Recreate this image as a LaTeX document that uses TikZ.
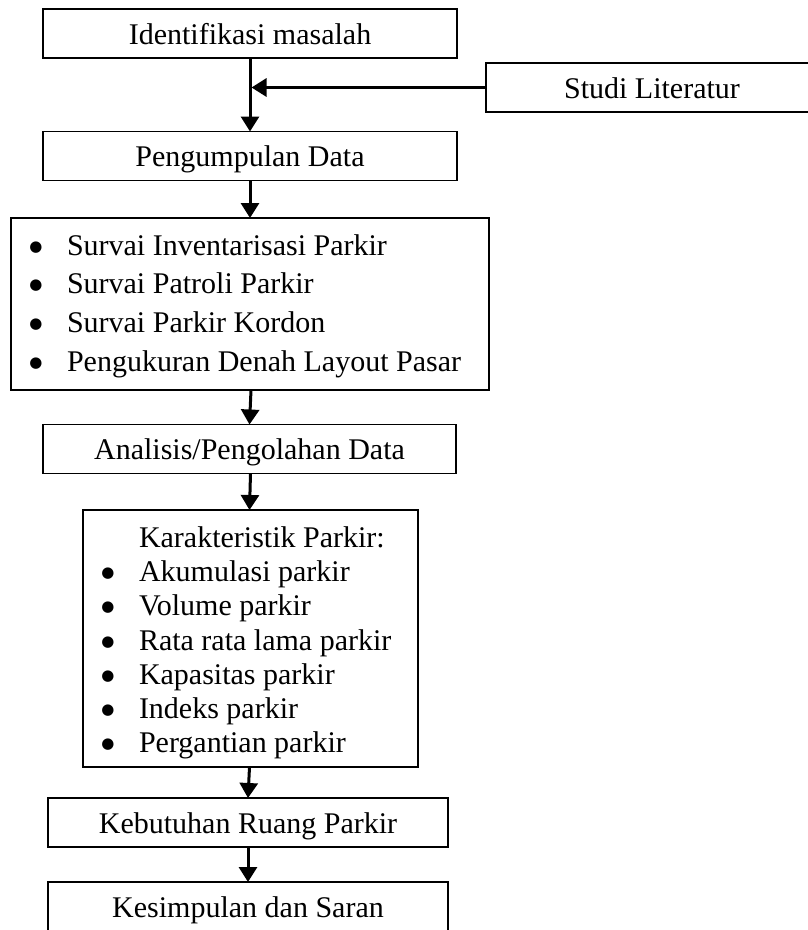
\documentclass[tikz,border=0pt]{standalone}
\usepackage{fontspec}
\setmainfont{Liberation Serif}
\newfontfamily\symfont{DejaVu Sans}
\usetikzlibrary{arrows.meta}
\newcommand\bul{\llap{\makebox[0pt][c]{\raisebox{4pt}{\symfont\fontsize{15}{15}\selectfont ●}}\hspace{31pt}}}
\begin{document}
\begin{tikzpicture}[x=1pt,y=-1pt,
  box/.style={draw=black, line width=1.4pt, inner sep=0pt, outer sep=0pt, minimum height=49pt, text height=21pt, text depth=0pt, font=\fontsize{30}{36}\selectfont},
  frame/.style={draw=black, line width=1.4pt, inner sep=0pt, outer sep=0pt},
  txt/.style={inner sep=0pt, outer sep=0pt, anchor=base west, font=\fontsize{30}{36}\selectfont},
  flow/.style={line width=3pt, -{Triangle[width=18pt,length=15pt]}}
]
\useasboundingbox (0,0) rectangle (808,930);
\clip (0,0) rectangle (808,930);
\fill[white] (0,0) rectangle (808,930);
% boxes
\node[box, minimum width=414pt] (ident) at (250,33.5) {Identifikasi masalah};
\node[box, minimum width=332pt] (studi) at (652,87.5) {Studi Literatur};
\node[box, minimum width=414pt] (kumpul) at (250,156) {Pengumpulan Data};
\node[frame, minimum width=478pt, minimum height=172pt] (survei) at (250,304) {};
\node[box, minimum width=413pt] (analisis) at (249.5,449) {Analisis/Pengolahan Data};
\node[frame, minimum width=335pt, minimum height=257pt] (karak) at (250.5,638.5) {};
\node[box, minimum width=400pt] (butuh) at (248,822.5) {Kebutuhan Ruang Parkir};
\node[box, minimum width=400pt] (simpul) at (248,906.5) {Kesimpulan dan Saran};
% survey list
\node[txt] (s1) at (67,255) {\bul Survai Inventarisasi Parkir};
\node[txt] (s2) at (67,293.7) {\bul Survai Patroli Parkir};
\node[txt] (s3) at (67,332.4) {\bul Survai Parkir Kordon};
\node[txt] (s4) at (67,371) {\bul Pengukuran Denah Layout Pasar};
% characteristics list
\node[txt] (k0) at (139,547) {Karakteristik Parkir:};
\node[txt] (k1) at (139,581.5) {\bul Akumulasi parkir};
\node[txt] (k2) at (139,615.5) {\bul Volume parkir};
\node[txt] (k3) at (139,650) {\bul Rata rata lama parkir};
\node[txt] (k4) at (139,684) {\bul Kapasitas parkir};
\node[txt] (k5) at (139,718) {\bul Indeks parkir};
\node[txt] (k6) at (139,752) {\bul Pergantian parkir};
% connectors
\coordinate (j) at ([xshift=1.5pt]ident.south |- studi.west);
\draw[flow] (ident.south) -- (kumpul.north);
\draw[flow] (studi.west) -- (j);
\draw[flow] (kumpul.south) -- (survei.north);
\draw[flow] ([xshift=1pt]survei.south) -- (analisis.north);
\draw[flow] ([xshift=1pt]analisis.south) -- ([xshift=-1pt]karak.north);
\draw[flow] ([xshift=-1pt]karak.south) -- (butuh.north);
\draw[flow] (butuh.south) -- (simpul.north);
\end{tikzpicture}
\end{document}
